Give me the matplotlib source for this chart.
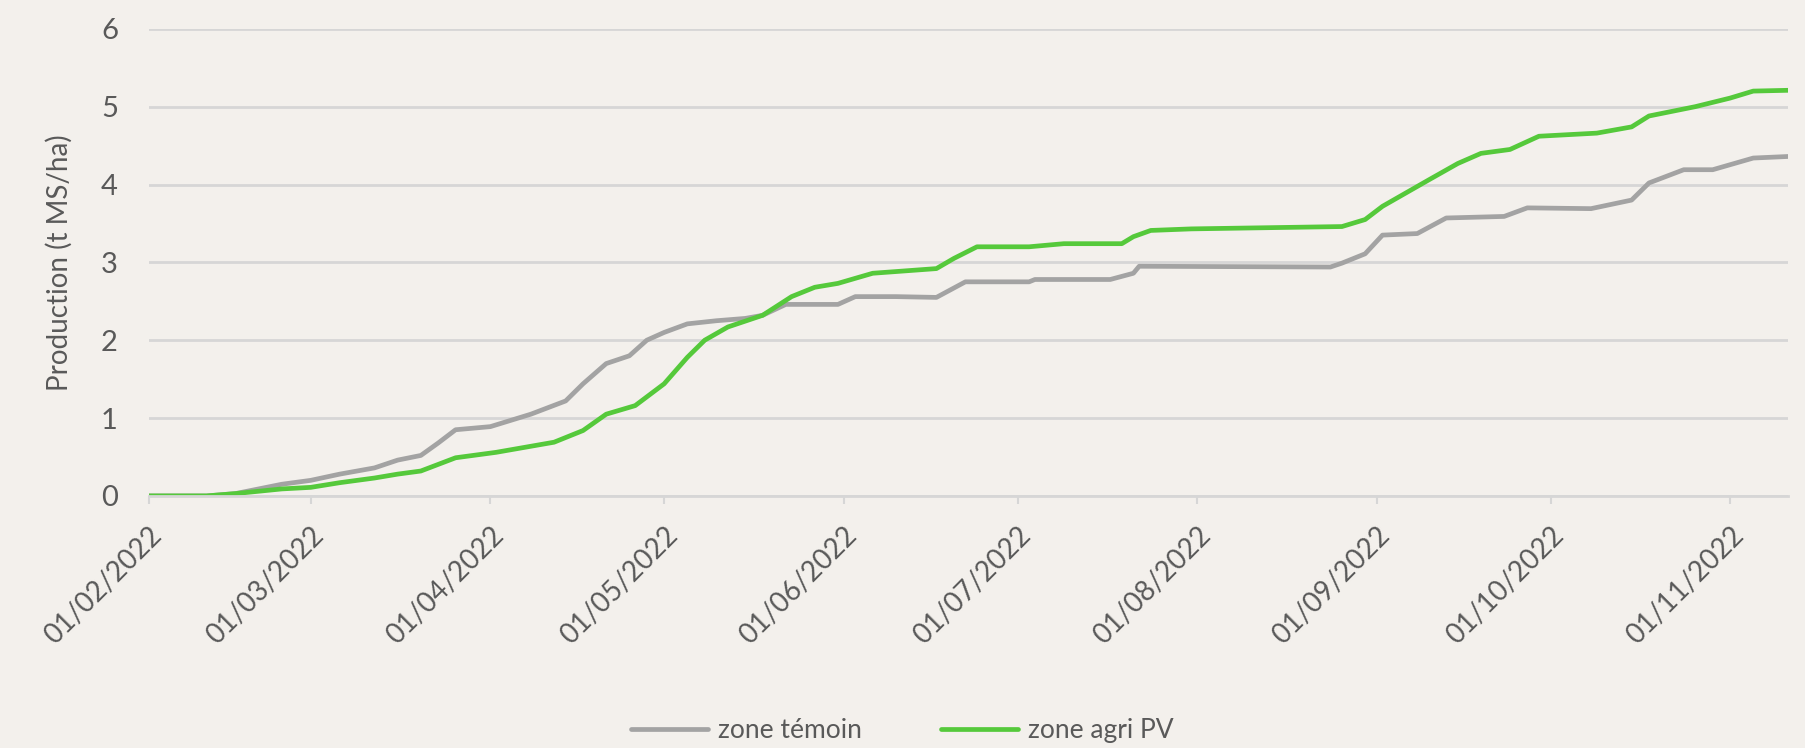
import numpy as np
import pandas as pd
import matplotlib
matplotlib.use("Agg")
import matplotlib.pyplot as plt
import matplotlib.dates as mdates

plt.rcParams['font.family'] = ['Lato', 'DejaVu Sans']

# zone témoin (cumulative production, t MS/ha)
temoin_dates = ["2022-02-01", "2022-02-11", "2022-02-16", "2022-02-24", "2022-03-01",
                "2022-03-06", "2022-03-12", "2022-03-16", "2022-03-20", "2022-03-23",
                "2022-03-26", "2022-04-01", "2022-04-08", "2022-04-14", "2022-04-17",
                "2022-04-21", "2022-04-25", "2022-04-28", "2022-05-01", "2022-05-05",
                "2022-05-10", "2022-05-15", "2022-05-18", "2022-05-22", "2022-05-31",
                "2022-06-03", "2022-06-10", "2022-06-17", "2022-06-22", "2022-07-03",
                "2022-07-04", "2022-07-17", "2022-07-21", "2022-07-22", "2022-08-24",
                "2022-08-26", "2022-08-30", "2022-09-02", "2022-09-08", "2022-09-13",
                "2022-09-23", "2022-09-27", "2022-10-08", "2022-10-15", "2022-10-18",
                "2022-10-24", "2022-10-29", "2022-11-05", "2022-11-11"]
temoin_vals = [0, 0, 0.03, 0.15, 0.20,
               0.28, 0.36, 0.46, 0.52, 0.68,
               0.85, 0.89, 1.05, 1.22, 1.44,
               1.70, 1.80, 2.00, 2.10, 2.21,
               2.25, 2.28, 2.32, 2.46, 2.46,
               2.56, 2.56, 2.55, 2.75, 2.75,
               2.78, 2.78, 2.86, 2.95, 2.94,
               2.99, 3.11, 3.35, 3.37, 3.57,
               3.59, 3.70, 3.69, 3.80, 4.02,
               4.19, 4.19, 4.34, 4.36]

# zone agri PV
agri_dates = ["2022-02-01", "2022-02-11", "2022-02-16", "2022-02-24", "2022-03-01",
              "2022-03-06", "2022-03-12", "2022-03-16", "2022-03-20", "2022-03-26",
              "2022-04-02", "2022-04-12", "2022-04-17", "2022-04-21", "2022-04-26",
              "2022-05-01", "2022-05-05", "2022-05-08", "2022-05-12", "2022-05-18",
              "2022-05-23", "2022-05-27", "2022-05-31", "2022-06-06", "2022-06-17",
              "2022-06-20", "2022-06-24", "2022-07-03", "2022-07-09", "2022-07-19",
              "2022-07-21", "2022-07-24", "2022-07-31", "2022-08-26", "2022-08-30",
              "2022-09-02", "2022-09-10", "2022-09-15", "2022-09-19", "2022-09-24",
              "2022-09-29", "2022-10-09", "2022-10-15", "2022-10-18", "2022-10-26",
              "2022-11-01", "2022-11-05", "2022-11-11"]
agri_vals = [0, 0, 0.03, 0.09, 0.11,
             0.17, 0.23, 0.28, 0.32, 0.49,
             0.56, 0.69, 0.84, 1.05, 1.16,
             1.44, 1.78, 2.00, 2.17, 2.32,
             2.56, 2.68, 2.73, 2.86, 2.92,
             3.05, 3.20, 3.20, 3.24, 3.24,
             3.33, 3.41, 3.43, 3.46, 3.55,
             3.72, 4.06, 4.27, 4.40, 4.45,
             4.62, 4.66, 4.74, 4.88, 5.00,
             5.11, 5.20, 5.21]

tick_dates = pd.date_range("2022-02-01", "2022-11-01", freq="MS")

bg = '#f3f0ec'
txt = '#595959'
grid = '#d6d6d6'

fig = plt.figure(figsize=(18.05, 7.48), dpi=100, facecolor=bg)
ax = fig.add_axes([0.0823, 0.337, 0.9083, 0.6245])
ax.set_facecolor(bg)

ax.plot(pd.to_datetime(temoin_dates), temoin_vals, color='#a3a3a3', lw=3.4,
        label='zone témoin', solid_capstyle='round', solid_joinstyle='round')
ax.plot(pd.to_datetime(agri_dates), agri_vals, color='#55c93b', lw=3.4,
        label='zone agri PV', solid_capstyle='round', solid_joinstyle='round')

ax.set_xlim(pd.Timestamp("2022-02-01"), pd.Timestamp("2022-11-11"))
ax.set_ylim(0, 6)
ax.set_yticks(range(0, 7))
ax.yaxis.grid(True, color=grid, lw=2)
ax.set_axisbelow(True)

ax.set_xticks(tick_dates)
ax.xaxis.set_major_formatter(mdates.DateFormatter('%d/%m/%Y'))
plt.setp(ax.get_xticklabels(), rotation=45, ha='right', rotation_mode='anchor')

for s in ['top', 'right', 'left']:
    ax.spines[s].set_visible(False)
ax.spines['bottom'].set_color(grid)
ax.spines['bottom'].set_linewidth(2)

ax.tick_params(axis='y', length=0, pad=22, labelsize=21, labelcolor=txt)
ax.tick_params(axis='x', length=6, width=1.5, color=grid, pad=13, labelsize=20, labelcolor=txt)

ax.set_ylabel('Production (t MS/ha)', fontsize=20, color=txt)
ax.yaxis.set_label_coords(-0.046, 0.5)

fig.legend(loc='lower center', bbox_to_anchor=(0.5, -0.025), ncol=2, frameon=False,
           fontsize=19, labelcolor=txt, handlelength=2.9, handletextpad=0.4,
           columnspacing=3.0)

fig.savefig('out.png', dpi=100, facecolor=bg)
